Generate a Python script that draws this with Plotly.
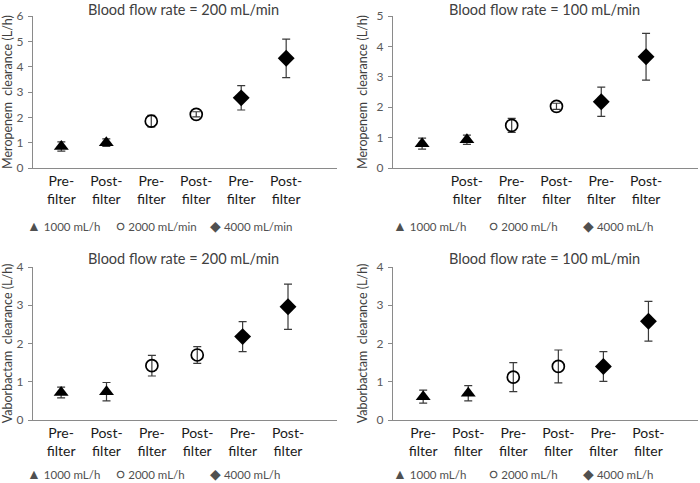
import plotly.graph_objects as go

# ---------------- data ----------------
categories = ["Pre-filter", "Post-filter", "Pre-filter", "Post-filter", "Pre-filter", "Post-filter"]
series_idx = [0, 0, 1, 1, 2, 2]  # which dialysate flow group each point belongs to

mero_200 = [0.85, 1.00, 1.85, 2.12, 2.77, 4.33]
mero_200_err = [0.18, 0.15, 0.23, 0.10, 0.48, 0.76]
mero_100 = [0.80, 0.93, 1.40, 2.03, 2.18, 3.66]
mero_100_err = [0.18, 0.15, 0.23, 0.10, 0.48, 0.77]
vabo_200 = [0.72, 0.74, 1.42, 1.70, 2.18, 2.96]
vabo_200_err = [0.14, 0.24, 0.27, 0.22, 0.39, 0.59]
vabo_100 = [0.61, 0.70, 1.12, 1.40, 1.40, 2.58]
vabo_100_err = [0.17, 0.20, 0.38, 0.43, 0.39, 0.52]

titles = ["Blood flow rate = 200 mL/min", "Blood flow rate = 100 mL/min",
          "Blood flow rate = 200 mL/min", "Blood flow rate = 100 mL/min"]
ytitles = ["Meropenem  clearance (L/h)", "Meropenem  clearance (L/h)",
           "Vaborbactam  clearance (L/h)", "Vaborbactam  clearance (L/h)"]
ymax = [6, 5, 4, 4]
legend_labels = [
    ["1000 mL/h", "2000 mL/min", "4000 mL/min"],
    ["1000 mL/h", "2000 mL/h", "4000 mL/h"],
    ["1000 mL/h", "2000 mL/h", "4000 mL/h"],
    ["1000 mL/h", "2000 mL/h", "4000 mL/h"],
]
# top-right panel has no label under its first point
panel_ticktext = [
    categories,
    [""] + categories[1:],
    categories,
    categories,
]
panels = [(mero_200, mero_200_err), (mero_100, mero_100_err),
          (vabo_200, vabo_200_err), (vabo_100, vabo_100_err)]

# ---------------- styles ----------------
symbols = ["triangle-up", "circle-open", "diamond"]
sizes = [13, 12, 13]
legend_glyphs = ["▲", "○", "◆"]
FONT = "Lato, 'Open Sans', sans-serif"
TXT = "#404040"
AX = "#8a8a8a"

W, H = 700, 483
xdoms = [(33 / W, 337 / W), (393 / W, 698 / W)]
ydoms = [((H - 168) / H, (H - 16) / H), ((H - 420) / H, (H - 267) / H)]
xranges = [(-0.63, 6.13), (-0.65, 6.16), (-0.62, 6.08), (-0.67, 6.1)]

fig = go.Figure()
xs = list(range(len(categories)))

for p, (vals, errs) in enumerate(panels):
    r, c = divmod(p, 2)
    ax = "" if p == 0 else str(p + 1)
    for s in range(3):
        idx = [i for i in xs if series_idx[i] == s]
        fig.add_trace(go.Scatter(
            x=[xs[i] for i in idx], y=[vals[i] for i in idx],
            mode="markers",
            marker=dict(symbol=symbols[s], size=sizes[s], color="black",
                        line=dict(color="black", width=1.7 if s == 1 else 0)),
            error_y=dict(type="data", array=[errs[i] for i in idx], visible=True,
                         color="#3a3a3a", thickness=1.2, width=4),
            xaxis="x" + ax, yaxis="y" + ax, showlegend=False,
        ))
    fig.update_layout(**{
        "xaxis" + ax: dict(domain=xdoms[c], range=list(xranges[p]), anchor="y" + ax,
                           showline=True, linecolor=AX, linewidth=1.3, showgrid=False,
                           zeroline=False, ticks="", tickvals=xs, automargin=False,
                           ticktext=[t.replace("-", "-<br>") for t in panel_ticktext[p]],
                           tickfont=dict(family=FONT, size=14, color="#1a1a1a"),
                           fixedrange=True),
        "yaxis" + ax: dict(domain=ydoms[r], range=[0, ymax[p]], anchor="x" + ax,
                           showline=True, linecolor=AX, linewidth=1.3, showgrid=False,
                           zeroline=False, ticks="outside", ticklen=4, tickcolor=AX,
                           automargin=False, ticklabelstandoff=2,
                           dtick=1, tickfont=dict(family=FONT, size=12, color="#595959"),
                           title=dict(text=ytitles[p], standoff=6,
                                      font=dict(family=FONT, size=12.5, color=TXT))),
    })
    # panel title
    if r == 0:
        ty, tanchor = 1.0, "top"
    else:
        ty, tanchor = (H - 258) / H, "middle"
    fig.add_annotation(text=titles[p], xref="paper", yref="paper",
                       x=(183 if c == 0 else 544) / W, y=ty,
                       showarrow=False, xanchor="center", yanchor=tanchor,
                       borderpad=0,
                       font=dict(family=FONT, size=14.5, color=TXT))
    # legend row
    if r == 0:
        leg_y, lanchor = (H - 225) / H, "middle"
    else:
        leg_y, lanchor = 0.0, "bottom"
    leg_x = [[33, 122, 216], [399, 495, 589]][c]
    for s in range(3):
        fig.add_annotation(text="<span style='font-size:14px'>" + legend_glyphs[s] + "</span> "
                           + legend_labels[p][s],
                           xref="paper", yref="paper", x=(leg_x[s] - 7) / W, y=leg_y,
                           showarrow=False, xanchor="left", yanchor=lanchor,
                           borderpad=0,
                           font=dict(family=FONT, size=11.5, color="#505050"))

fig.update_layout(width=W, height=H, margin=dict(l=0, r=0, t=0, b=0),
                  paper_bgcolor="white", plot_bgcolor="white", showlegend=False)
fig.write_html("out.html", config={"displayModeBar": False},
               post_script="document.body.style.margin='0';")
